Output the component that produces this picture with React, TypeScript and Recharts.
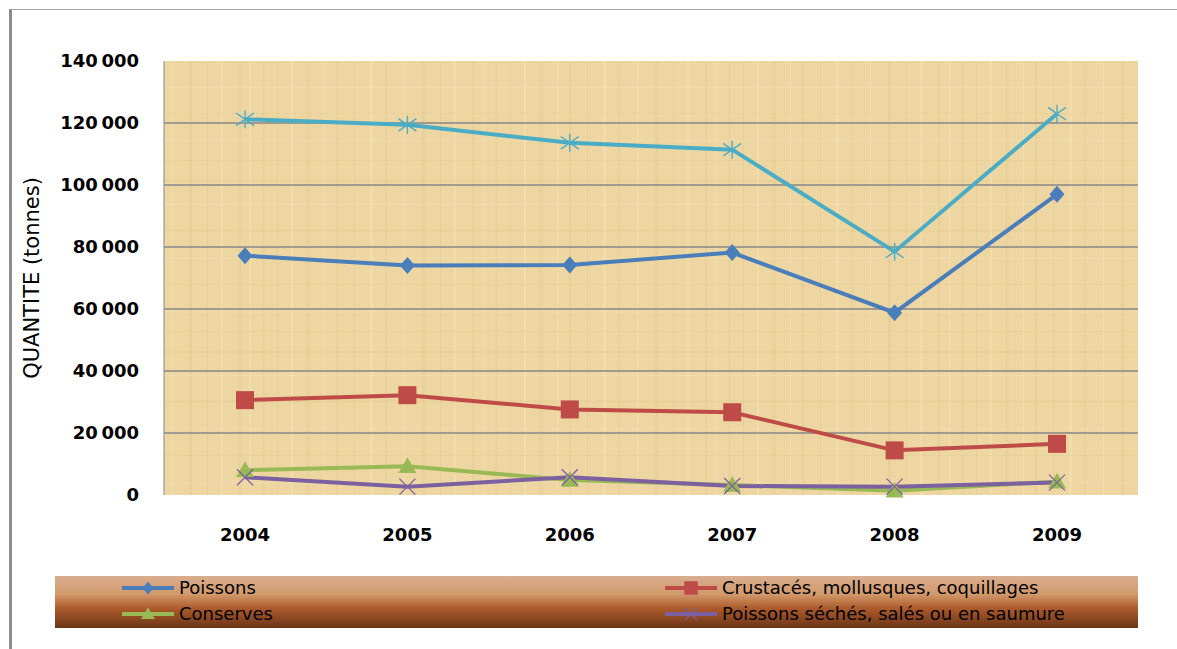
import React from 'react'
import { LineChart, Line, XAxis, YAxis, CartesianGrid, Legend, Label } from 'recharts'

const years = ['2004', '2005', '2006', '2007', '2008', '2009']
const poissons = [77200, 74000, 74200, 78200, 58800, 97000]
const crustaces = [30600, 32200, 27600, 26700, 14400, 16500]
const conserves = [8000, 9300, 4800, 3200, 1400, 4300]
const seches = [5700, 2700, 5700, 2900, 2700, 4000]
const total = [121200, 119400, 113600, 111400, 78500, 123000]
const yTicks = [0, 20000, 40000, 60000, 80000, 100000, 120000, 140000]

const data = years.map((year, i) => ({
  year,
  poissons: poissons[i],
  crustaces: crustaces[i],
  conserves: conserves[i],
  seches: seches[i],
  total: total[i],
}))

const BLUE = '#4a7ebb'
const RED = '#be4b48'
const GREEN = '#98b954'
const PURPLE = '#7d60a0'
const CYAN = '#4bacc6'
const GRID = '#878787'
const FONT = '"DejaVu Sans", sans-serif'

const fmt = (v: number) => String(v).replace(/\B(?=(\d{3})+(?!\d))/g, '\u2009')

type Mark = 'diamond' | 'square' | 'triangle' | 'star' | 'x'

function Marker({ cx, cy, kind, color, s = 1 }: { cx: number; cy: number; kind: Mark; color: string; s?: number }) {
  if (kind === 'diamond') {
    const w = 7.5 * s, h = 8.5 * s
    return <path d={`M${cx},${cy - h}L${cx + w},${cy}L${cx},${cy + h}L${cx - w},${cy}Z`} fill={color} />
  }
  if (kind === 'square') {
    const r = 9 * s
    return <rect x={cx - r} y={cy - r} width={2 * r} height={2 * r} fill={color} />
  }
  if (kind === 'triangle') {
    const r = 9 * s
    return <path d={`M${cx},${cy - r}L${cx + r},${cy + r * 0.75}L${cx - r},${cy + r * 0.75}Z`} fill={color} />
  }
  if (kind === 'star') {
    const r = 9 * s
    return (
      <g stroke={color} strokeWidth={1.4}>
        <line x1={cx - r} y1={cy - r * 0.7} x2={cx + r} y2={cy + r * 0.7} />
        <line x1={cx - r} y1={cy + r * 0.7} x2={cx + r} y2={cy - r * 0.7} />
        <line x1={cx} y1={cy - r} x2={cx} y2={cy + r} />
      </g>
    )
  }
  const r = 8 * s
  return (
    <g stroke={color} strokeWidth={1.3}>
      <line x1={cx - r} y1={cy - r} x2={cx + r} y2={cy + r} />
      <line x1={cx - r} y1={cy + r} x2={cx + r} y2={cy - r} />
    </g>
  )
}

const dotFor = (kind: Mark, color: string) => (p: any) => (
  <Marker key={`${kind}-${p.index}`} cx={p.cx} cy={p.cy} kind={kind} color={color} />
)

const legendItems: { name: string; color: string; kind: Mark; left: number; top: number }[] = [
  { name: 'Poissons', color: BLUE, kind: 'diamond', left: 67, top: 12 },
  { name: 'Crustacés, mollusques, coquillages', color: RED, kind: 'square', left: 610, top: 12 },
  { name: 'Conserves', color: GREEN, kind: 'triangle', left: 67, top: 38 },
  { name: 'Poissons séchés, salés ou en saumure', color: PURPLE, kind: 'x', left: 610, top: 38 },
]

function LegendBox() {
  return (
    <div
      style={{
        position: 'relative',
        width: 1083,
        height: 52,
        background: 'linear-gradient(to bottom, #d8ad8f 0%, #d29a6b 35%, #ad5b2c 62%, #6b3516 100%)',
        fontFamily: FONT,
        fontSize: 18,
        color: '#000',
      }}
    >
      {legendItems.map(it => (
        <div key={it.name} style={{ position: 'absolute', left: it.left, top: it.top - 11, height: 22, display: 'flex', alignItems: 'center' }}>
          <svg width={52} height={22}>
            <line x1={0} y1={11} x2={52} y2={11} stroke={it.color} strokeWidth={4} />
            <Marker cx={26} cy={11} kind={it.kind} color={it.color} s={0.75} />
          </svg>
          <span style={{ marginLeft: 5, whiteSpace: 'nowrap', lineHeight: '22px' }}>{it.name}</span>
        </div>
      ))}
    </div>
  )
}

// papyrus-like fibres for the plot background
const fibres = [
  { x: 6, w: 2, c: '#c9a45d', o: 0.12 },
  { x: 17, w: 1, c: '#fff4d6', o: 0.3 },
  { x: 29, w: 3, c: '#d4b571', o: 0.12 },
  { x: 44, w: 1, c: '#c09a55', o: 0.14 },
  { x: 58, w: 2, c: '#fff2cf', o: 0.25 },
  { x: 73, w: 4, c: '#d2b06b', o: 0.1 },
  { x: 91, w: 1, c: '#fff4d6', o: 0.3 },
  { x: 103, w: 2, c: '#c8a35c', o: 0.12 },
  { x: 121, w: 1, c: '#c09a55', o: 0.14 },
  { x: 137, w: 3, c: '#fff2cf', o: 0.22 },
  { x: 152, w: 2, c: '#d2b06b', o: 0.12 },
  { x: 171, w: 1, c: '#fff4d6', o: 0.28 },
  { x: 189, w: 3, c: '#c8a35c', o: 0.1 },
  { x: 207, w: 1, c: '#c09a55', o: 0.14 },
  { x: 221, w: 2, c: '#fff2cf', o: 0.22 },
]
const strands = [
  { y: 9, h: 2, c: '#cfae69', o: 0.1 },
  { y: 33, h: 1, c: '#fff1cc', o: 0.25 },
  { y: 58, h: 3, c: '#c9a760', o: 0.08 },
  { y: 86, h: 2, c: '#f6e4b8', o: 0.22 },
  { y: 113, h: 1, c: '#cfae69', o: 0.12 },
  { y: 139, h: 3, c: '#f6e4b8', o: 0.18 },
  { y: 160, h: 1, c: '#c9a760', o: 0.1 },
]

export default function App() {
  return (
    <div style={{ position: 'absolute', left: 0, top: 0, width: 1177, height: 649, background: '#fff' }}>
      {/* outer frame */}
      <div style={{ position: 'absolute', left: 9, top: 9, width: 1168, height: 640, borderLeft: '3px solid #8c8c8c', borderTop: '1px solid #a6a6a6' }} />
      <LineChart width={1177} height={649} data={data} margin={{ top: 61, right: 39, bottom: 94, left: 0 }}>
        <defs>
          <pattern id="papyrus" patternUnits="userSpaceOnUse" width={233} height={171}>
            <rect width={233} height={171} fill="#edd6a2" />
            {fibres.map(f => (
              <rect key={`f${f.x}`} x={f.x} y={0} width={f.w} height={171} fill={f.c} opacity={f.o} />
            ))}
            {strands.map(s => (
              <rect key={`s${s.y}`} x={0} y={s.y} width={233} height={s.h} fill={s.c} opacity={s.o} />
            ))}
          </pattern>
        </defs>
        <CartesianGrid
          vertical={false}
          horizontalValues={yTicks.slice(1, -1)}
          stroke={GRID}
          strokeWidth={1.5}
          fill="url(#papyrus)"
          fillOpacity={1}
        />
        <XAxis
          dataKey="year"
          padding={{ left: 81, right: 81 }}
          axisLine={false}
          tickLine={false}
          tickSize={0}
          tickMargin={33}
          height={60}
          tick={{ fill: '#000', fontFamily: FONT, fontSize: 18, fontWeight: 'bold' }}
        />
        <YAxis
          domain={[0, 140000]}
          ticks={yTicks}
          tickFormatter={fmt}
          width={164}
          axisLine={{ stroke: GRID, strokeWidth: 1 }}
          tickLine={false}
          tickSize={0}
          tickMargin={25}
          tick={{ fill: '#000', fontFamily: FONT, fontSize: 18, fontWeight: 'bold' }}
        >
          <Label
            content={({ viewBox }: any) => {
              const cx = 32
              const cy = viewBox.y + viewBox.height / 2
              return (
                <text x={cx} y={cy} transform={`rotate(-90 ${cx} ${cy})`} textAnchor="middle" dominantBaseline="central" fontFamily={FONT} fontSize={21} fill="#000">
                  QUANTITE (tonnes)
                </text>
              )
            }}
          />
        </YAxis>
        <Legend
          layout="horizontal"
          verticalAlign="middle"
          align="center"
          content={() => <LegendBox />}
          wrapperStyle={{ position: 'absolute', left: 55, top: 576, width: 1083, height: 52 }}
        />
        <Line dataKey="poissons" name="Poissons" stroke={BLUE} strokeWidth={4} dot={dotFor('diamond', BLUE)} activeDot={false} isAnimationActive={false} />
        <Line dataKey="crustaces" name="Crustacés, mollusques, coquillages" stroke={RED} strokeWidth={4} dot={dotFor('square', RED)} activeDot={false} isAnimationActive={false} />
        <Line dataKey="conserves" name="Conserves" stroke={GREEN} strokeWidth={4} dot={dotFor('triangle', GREEN)} activeDot={false} isAnimationActive={false} />
        <Line dataKey="seches" name="Poissons séchés, salés ou en saumure" stroke={PURPLE} strokeWidth={4} dot={dotFor('x', PURPLE)} activeDot={false} isAnimationActive={false} />
        <Line dataKey="total" name="Total" legendType="none" stroke={CYAN} strokeWidth={4} dot={dotFor('star', CYAN)} activeDot={false} isAnimationActive={false} />
      </LineChart>
    </div>
  )
}
